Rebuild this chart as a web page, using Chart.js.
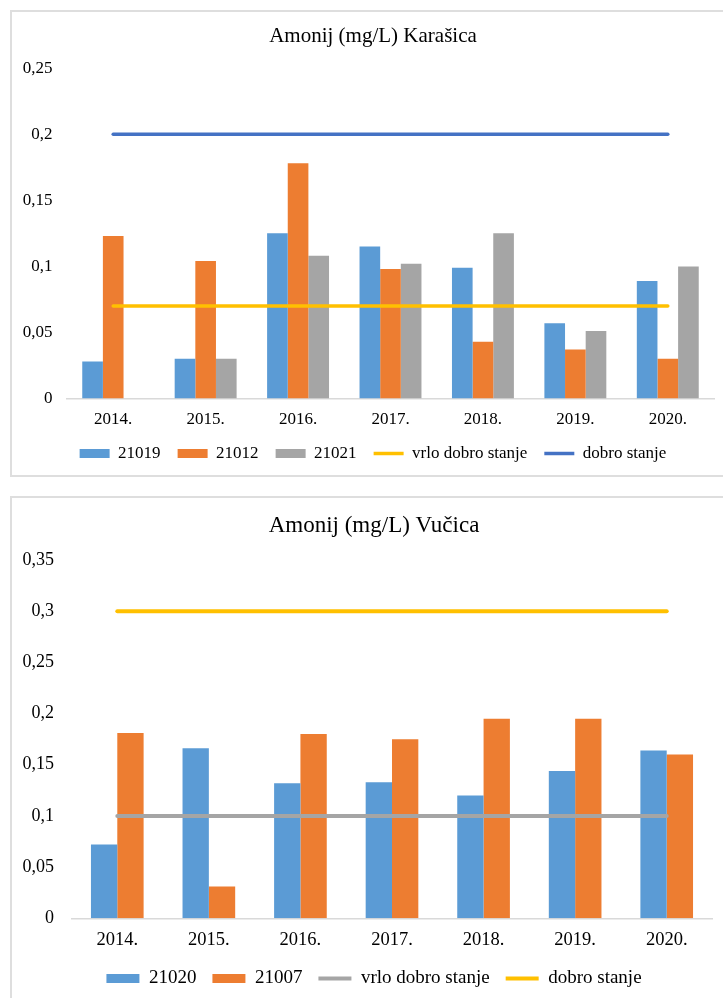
<!DOCTYPE html>
<html>
<head>
<meta charset="utf-8">
<script src="https://cdn.jsdelivr.net/npm/chart.js@4/dist/chart.umd.min.js"></script>
<style>
    body { margin: 0; background: #fff; width: 723px; height: 998px; overflow: hidden; position: relative; }
    .frame { position: absolute; border: 2px solid #dedede; box-sizing: border-box; }
    .wrap { position: absolute; }
</style>
</head>
<body>
<div class="frame" style="left:10px; top:10px; width:730px; height:467px;"></div>
<div class="frame" style="left:10px; top:496px; width:730px; height:520px;"></div>
<div class="wrap" style="left:12px; top:12px; width:720px; height:463px;"><canvas id="chart-karasica"></canvas></div>
<div class="wrap" style="left:12px; top:498px; width:724px; height:500px;"><canvas id="chart-vucica"></canvas></div>
<script>
const years = ['2014.', '2015.', '2016.', '2017.', '2018.', '2019.', '2020.'];

// Karašica
const st21019 = [0.028, 0.030, 0.125, 0.115, 0.099, 0.057, 0.089];
const st21012 = [0.123, 0.104, 0.178, 0.098, 0.043, 0.037, 0.030];
const st21021 = [null, 0.030, 0.108, 0.102, 0.125, 0.051, 0.100];
const karVrloDobro = [0.07, 0.07, 0.07, 0.07, 0.07, 0.07, 0.07];
const karDobro = [0.2, 0.2, 0.2, 0.2, 0.2, 0.2, 0.2];
const karTicks = ['0', '0,05', '0,1', '0,15', '0,2', '0,25'];

// Vučica
const st21020 = [0.072, 0.166, 0.132, 0.133, 0.120, 0.144, 0.164];
const st21007 = [0.181, 0.031, 0.180, 0.175, 0.195, 0.195, 0.160];
const vucVrloDobro = [0.1, 0.1, 0.1, 0.1, 0.1, 0.1, 0.1];
const vucDobro = [0.3, 0.3, 0.3, 0.3, 0.3, 0.3, 0.3];
const vucTicks = ['0', '0,05', '0,1', '0,15', '0,2', '0,25', '0,3', '0,35'];

const FONT = "'Liberation Serif', 'Times New Roman', serif";
const BLUE = '#5B9BD5', ORANGE = '#ED7D31', GRAY = '#A5A5A5', YELLOW = '#FFC000', DARKBLUE = '#4472C4';

function barSet(label, data, color) {
    return { type: 'bar', label, data, yAxisID: 'y', backgroundColor: color, borderWidth: 0, order: 1 };
}

function lineSet(label, data, color, width) {
    return {
        type: 'line', label, data, yAxisID: 'y',
        borderColor: color, backgroundColor: color, borderWidth: width,
        borderCapStyle: 'round', pointRadius: 0, fill: false, order: 0,
    };
}

function legendLabels(chart) {
    const items = Chart.defaults.plugins.legend.labels.generateLabels(chart);
    items.forEach((it) => {
        const ds = chart.data.datasets[it.datasetIndex];
        if (ds.type === 'line') {
            it.pointStyle = 'line';
        } else {
            it.pointStyle = 'rect';
            it.lineWidth = 0;
        }
    });
    return items.sort((a, b) => a.datasetIndex - b.datasetIndex);
}

function makeChart(id, o) {
    new Chart(document.getElementById(id), {
        data: { labels: years, datasets: o.datasets },
        options: {
            responsive: true,
            maintainAspectRatio: false,
            animation: false,
            events: [],
            categoryPercentage: o.catPct,
            barPercentage: 1,
            layout: { padding: o.pad },
            plugins: {
                tooltip: { enabled: false },
                title: {
                    display: true, text: o.title, color: '#000',
                    font: { family: FONT, size: o.titleSize, weight: 'normal' },
                    padding: o.titlePad,
                },
                legend: {
                    position: 'bottom',
                    labels: {
                        color: '#000',
                        font: { family: FONT, size: o.legendSize },
                        usePointStyle: true,
                        pointStyleWidth: o.boxW,
                        boxHeight: 9,
                        padding: o.legendPad,
                        generateLabels: legendLabels,
                    },
                },
            },
            scales: {
                x: {
                    grid: { display: false, drawTicks: false },
                    border: { display: true, color: '#d9d9d9', width: 1.5 },
                    ticks: { color: '#000', padding: o.xPad, maxRotation: 0, font: { family: FONT, size: o.xSize } },
                    afterFit(scale) { scale.height = o.xH; },
                },
                y: {
                    position: 'left',
                    min: 0, max: o.yMax,
                    grid: { display: false, drawTicks: false },
                    border: { display: false },
                    ticks: {
                        stepSize: 0.05, color: '#000', padding: o.yPad,
                        font: { family: FONT, size: o.ySize },
                        callback: (v, i) => o.yTicks[i],
                    },
                    afterFit(scale) { scale.width = o.yW; },
                },
                // empty right-hand space so title/legend stay centred like the original
                yr: {
                    axis: 'y', position: 'right',
                    grid: { display: false, drawTicks: false },
                    border: { display: false },
                    ticks: { display: false },
                    afterFit(scale) { scale.width = o.rightW; },
                },
            },
        },
    });
}

makeChart('chart-karasica', {
    title: 'Amonij (mg/L) Karašica',
    datasets: [
        barSet('21019', st21019, BLUE),
        barSet('21012', st21012, ORANGE),
        barSet('21021', st21021, GRAY),
        lineSet('vrlo dobro stanje', karVrloDobro, YELLOW, 3.5),
        lineSet('dobro stanje', karDobro, DARKBLUE, 3.5),
    ],
    catPct: 0.67,
    pad: { top: 0, left: 2, right: 0, bottom: 3 },
    titleSize: 21, titlePad: { top: 12, bottom: 19 },
    legendSize: 17, legendPad: 17, boxW: 30,
    xSize: 17, xPad: 11, xH: 29.5,
    ySize: 17, yPad: 14.5, yW: 53, rightW: 18,
    yMax: 0.25, yTicks: karTicks,
});

makeChart('chart-vucica', {
    title: 'Amonij (mg/L) Vučica',
    datasets: [
        barSet('21020', st21020, BLUE),
        barSet('21007', st21007, ORANGE),
        lineSet('vrlo dobro stanje', vucVrloDobro, GRAY, 4),
        lineSet('dobro stanje', vucDobro, YELLOW, 4),
    ],
    catPct: 0.575,
    pad: { top: 0, left: 0, right: 0, bottom: 0 },
    titleSize: 23, titlePad: { top: 14, bottom: 20.4 },
    legendSize: 19, legendPad: 16, boxW: 33,
    xSize: 18.5, xPad: 10.6, xH: 34.7,
    ySize: 18, yPad: 17.5, yW: 59.5, rightW: 23.5,
    yMax: 0.35, yTicks: vucTicks,
});
</script>
</body>
</html>
